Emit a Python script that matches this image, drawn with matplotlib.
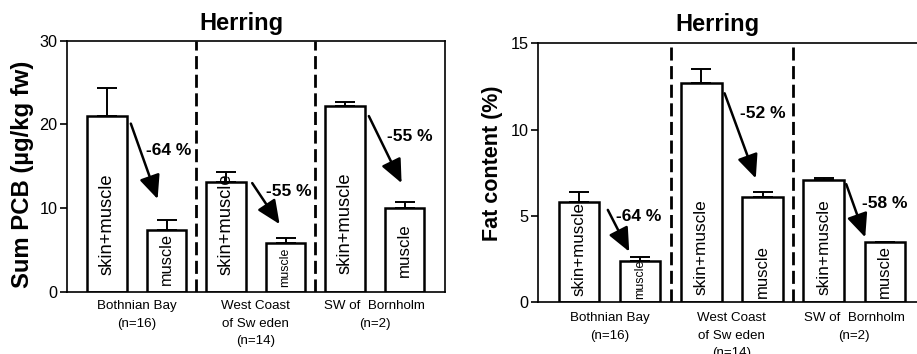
import matplotlib
matplotlib.use("Agg")
import matplotlib.pyplot as plt
from matplotlib.patches import FancyArrowPatch

plt.rcParams['font.family'] = ['Liberation Sans', 'DejaVu Sans']

# data
bar_names = ['skin+muscle', 'muscle', 'skin+muscle', 'muscle', 'skin+muscle', 'muscle']
groups = ['Bothnian Bay\n(n=16)', 'West Coast\nof Sw eden\n(n=14)', 'SW of  Bornholm\n(n=2)']

pcb_vals = [21.0, 7.4, 13.1, 5.9, 22.2, 10.0]
pcb_err = [3.4, 1.2, 1.2, 0.5, 0.5, 0.8]
pcb_drop = ['-64 %', '-55 %', '-55 %']

fat_vals = [5.82, 2.4, 12.72, 6.07, 7.1, 3.5]
fat_err = [0.58, 0.23, 0.78, 0.33, 0.1, 0.0]
fat_drop = ['-64 %', '-52 %', '-58 %']

# layout of the inside labels and arrows (x in bar index units, y in data units)
pcb_lab_y = [2.0, 0.8, 2.0, 0.6, 2.2, 1.8]
pcb_lab_fs = [13.2, 11.8, 13.2, 8.9, 13.2, 12.2]
pcb_arrows = [((0.40, 20.1), (0.85, 11.1)), ((2.44, 13.0), (2.90, 8.1)), ((4.40, 21.0), (4.95, 13.0))]
pcb_drop_xy = [(0.65, 16.9), (2.68, 12.0), (4.70, 18.6)]

fat_lab_y = [0.35, 0.2, 0.4, 0.25, 0.4, 0.25]
fat_lab_fs = [12.2, 8.9, 12.4, 12.0, 12.4, 12.0]
fat_arrows = [((0.47, 5.34), (0.82, 2.92)), ((2.38, 12.1), (2.89, 7.17)), ((4.37, 6.83), (4.68, 3.75))]
fat_drop_xy = [(0.61, 4.95), (2.64, 10.95), (4.63, 5.72)]

fig = plt.figure(figsize=(9.17, 3.54), dpi=100)
ax1 = fig.add_axes([0.0731, 0.1751, 0.4122, 0.7100])
ax2 = fig.add_axes([0.5867, 0.1469, 0.4235, 0.7308])


def panel(ax, vals, err, ymax, yticks, lab_y, lab_fs, arrows, drop, drop_xy, ylabel, ylab_fs, ylab_pos, grp_y):
    x = list(range(len(vals)))
    ax.bar(x, vals, width=0.66, color='white', edgecolor='black', linewidth=1.8, zorder=2)
    ax.errorbar(x, vals, yerr=[[0] * len(vals), err], fmt='none', ecolor='black',
                elinewidth=1.4, capsize=7, capthick=1.4, zorder=1)
    for i in x:
        ax.text(i, lab_y[i], bar_names[i], rotation=90, ha='center', va='bottom',
                fontsize=lab_fs[i], zorder=3)
    for (p0, p1), t, (tx, ty) in zip(arrows, drop, drop_xy):
        ax.add_patch(FancyArrowPatch(p0, p1, arrowstyle='-|>,head_length=0.72,head_width=0.32',
                                     mutation_scale=20, lw=1.8, color='black',
                                     shrinkA=0, shrinkB=0, zorder=4))
        ax.text(tx, ty, t, ha='left', va='center', fontsize=12.5, fontweight='bold', zorder=4)
    for xv in (1.5, 3.5):
        ax.axvline(xv, color='black', lw=2.0, ls=(0, (4.7, 2.0)), zorder=3)
    for k, g in enumerate(groups):
        ax.text(2 * k + 0.5, grp_y, g, ha='center', va='top', fontsize=9.6,
                linespacing=1.6, transform=ax.get_xaxis_transform())
    ax.set_xlim(-0.672, 5.68)
    ax.set_ylim(0, ymax)
    ax.set_yticks(yticks)
    ax.set_xticks([])
    ax.tick_params(axis='y', labelsize=11.7, length=5, width=1.2, pad=2)
    ax.set_ylabel(ylabel, fontsize=ylab_fs, fontweight='bold')
    ax.yaxis.set_label_coords(*ylab_pos)
    for s in ax.spines.values():
        s.set_linewidth(1.2)


panel(ax1, pcb_vals, pcb_err, 30, [0, 10, 20, 30], pcb_lab_y, pcb_lab_fs,
      pcb_arrows, pcb_drop, pcb_drop_xy, 'Sum PCB (µg/kg fw)', 17.2, (-0.087, 0.47), -0.033)
panel(ax2, fat_vals, fat_err, 15, [0, 5, 10, 15], fat_lab_y, fat_lab_fs,
      fat_arrows, fat_drop, fat_drop_xy, 'Fat content (%)', 15.5, (-0.091, 0.535), -0.04)
ax2.spines['right'].set_visible(False)

fig.text(241.7 / 917, 1 - 23.3 / 354, 'Herring', ha='center', va='center', fontsize=17, fontweight='bold')
fig.text(717 / 917, 1 - 24 / 354, 'Herring', ha='center', va='center', fontsize=17, fontweight='bold')

fig.savefig('out.png', dpi=100)
